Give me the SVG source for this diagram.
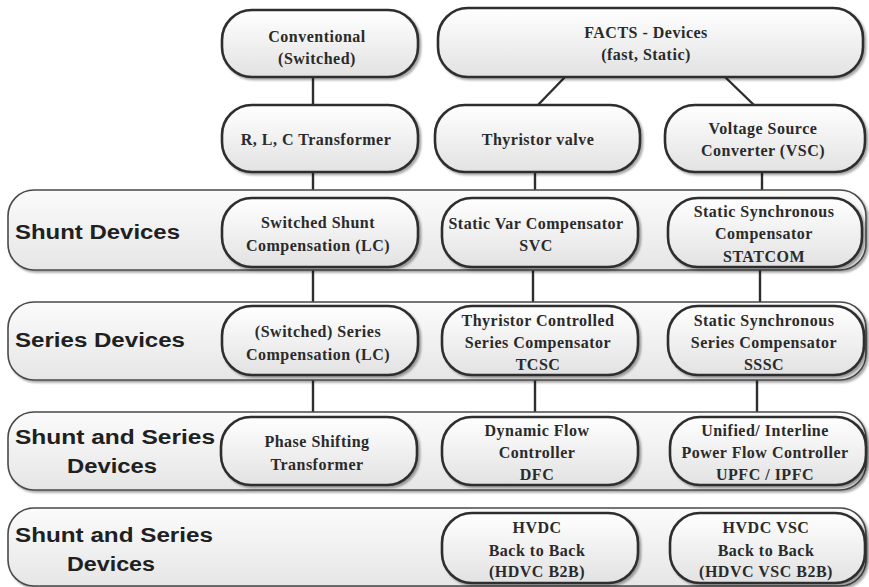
<svg xmlns="http://www.w3.org/2000/svg" width="869" height="587" viewBox="0 0 869 587">
  <defs>
    <linearGradient id="boxFill" x1="0" y1="0" x2="0" y2="1">
      <stop offset="0" stop-color="#ffffff"/>
      <stop offset="1" stop-color="#e2e2e2"/>
    </linearGradient>
    <linearGradient id="bandFill" x1="0" y1="0" x2="0" y2="1">
      <stop offset="0" stop-color="#fbfbfb"/>
      <stop offset="1" stop-color="#e6e6e6"/>
    </linearGradient>
    <filter id="shadow" x="-5%" y="-10%" width="110%" height="130%">
      <feDropShadow dx="2" dy="2" stdDeviation="1.2" flood-color="#000" flood-opacity="0.35"/>
    </filter>
  </defs>
  <style>
    .box { fill: url(#boxFill); stroke: #2e2e2e; stroke-width: 2.6; filter: url(#shadow); }
    .band { fill: url(#bandFill); stroke: #4a4a4a; stroke-width: 1.6; filter: url(#shadow); }
    .t { font-family: "Liberation Serif", "Times New Roman", serif; font-weight: bold; font-size: 16px; letter-spacing: 0.5px; fill: #2a2a2a; text-anchor: middle; }
    .b { font-family: "Liberation Sans", Arial, sans-serif; font-weight: bold; font-size: 20px; fill: #202020; }
    .c { stroke: #2e2e2e; stroke-width: 2.4; fill: none; }
  </style>
  <rect width="869" height="587" fill="#ffffff"/>

  <!-- connectors (drawn first so the bands cover their ends) -->
  <g id="connectors">
    <line class="c" x1="313" y1="77" x2="313" y2="106"/>
    <line class="c" x1="313" y1="171" x2="313" y2="199"/>
    <line class="c" x1="313" y1="266" x2="313" y2="307"/>
    <line class="c" x1="313" y1="374" x2="313" y2="418"/>
    <line class="c" x1="565" y1="77" x2="537" y2="106"/>
    <line class="c" x1="725" y1="77" x2="755" y2="106"/>
    <line class="c" x1="535" y1="171" x2="535" y2="199"/>
    <line class="c" x1="533" y1="266" x2="533" y2="307"/>
    <line class="c" x1="535" y1="374" x2="535" y2="418"/>
    <line class="c" x1="762" y1="171" x2="762" y2="199"/>
    <line class="c" x1="760" y1="266" x2="760" y2="307"/>
    <line class="c" x1="757" y1="374" x2="757" y2="418"/>
  </g>

  <!-- category bands -->
  <g id="band-shunt">
    <rect class="band" x="8" y="190" width="858" height="80" rx="26"/>
    <text class="b" x="15" y="239" textLength="165" lengthAdjust="spacingAndGlyphs">Shunt Devices</text>
  </g>
  <g id="band-series">
    <rect class="band" x="8" y="302" width="858" height="78" rx="26"/>
    <text class="b" x="15" y="347" textLength="170" lengthAdjust="spacingAndGlyphs">Series Devices</text>
  </g>
  <g id="band-shunt-series">
    <rect class="band" x="8" y="412" width="858" height="78" rx="26"/>
    <text class="b" x="15" y="444" textLength="200" lengthAdjust="spacingAndGlyphs">Shunt and Series</text>
    <text class="b" x="67" y="473" textLength="90" lengthAdjust="spacingAndGlyphs">Devices</text>
  </g>
  <g id="band-hvdc">
    <rect class="band" x="8" y="508" width="858" height="78" rx="26"/>
    <text class="b" x="15" y="542" textLength="198" lengthAdjust="spacingAndGlyphs">Shunt and Series</text>
    <text class="b" x="67" y="571" textLength="88" lengthAdjust="spacingAndGlyphs">Devices</text>
  </g>

  <!-- top level -->
  <g id="conventional">
    <rect class="box" x="222" y="10" width="196" height="67" rx="30"/>
    <text class="t" x="317" y="42">Conventional</text>
    <text class="t" x="317" y="64">(Switched)</text>
  </g>
  <g id="facts">
    <rect class="box" x="438" y="8" width="425" height="69" rx="30"/>
    <text class="t" x="646" y="38">FACTS - Devices</text>
    <text class="t" x="646" y="60">(fast, Static)</text>
  </g>

  <!-- technology level -->
  <g id="rlc">
    <rect class="box" x="222" y="105" width="196" height="67" rx="30"/>
    <text class="t" x="316" y="145">R, L, C Transformer</text>
  </g>
  <g id="thyristor">
    <rect class="box" x="435" y="105" width="205" height="67" rx="30"/>
    <text class="t" x="538" y="145">Thyristor valve</text>
  </g>
  <g id="vsc">
    <rect class="box" x="665" y="105" width="200" height="67" rx="30"/>
    <text class="t" x="763" y="134">Voltage Source</text>
    <text class="t" x="763" y="156">Converter (VSC)</text>
  </g>

  <!-- shunt devices -->
  <g id="switched-shunt">
    <rect class="box" x="222" y="198" width="196" height="69" rx="30"/>
    <text class="t" x="318" y="228">Switched Shunt</text>
    <text class="t" x="318" y="251">Compensation (LC)</text>
  </g>
  <g id="svc">
    <rect class="box" x="442" y="198" width="196" height="69" rx="30"/>
    <text class="t" x="536" y="229">Static Var Compensator</text>
    <text class="t" x="536" y="251">SVC</text>
  </g>
  <g id="statcom">
    <rect class="box" x="668" y="198" width="194" height="69" rx="30"/>
    <text class="t" x="764" y="217">Static Synchronous</text>
    <text class="t" x="764" y="239">Compensator</text>
    <text class="t" x="764" y="262">STATCOM</text>
  </g>

  <!-- series devices -->
  <g id="switched-series">
    <rect class="box" x="222" y="306" width="196" height="69" rx="30"/>
    <text class="t" x="318" y="337">(Switched) Series</text>
    <text class="t" x="318" y="360">Compensation (LC)</text>
  </g>
  <g id="tcsc">
    <rect class="box" x="442" y="306" width="196" height="69" rx="30"/>
    <text class="t" x="538" y="326">Thyristor Controlled</text>
    <text class="t" x="538" y="348">Series Compensator</text>
    <text class="t" x="538" y="370">TCSC</text>
  </g>
  <g id="sssc">
    <rect class="box" x="668" y="306" width="196" height="69" rx="30"/>
    <text class="t" x="764" y="326">Static Synchronous</text>
    <text class="t" x="764" y="348">Series Compensator</text>
    <text class="t" x="764" y="370">SSSC</text>
  </g>

  <!-- shunt and series devices -->
  <g id="pst">
    <rect class="box" x="221" y="417" width="196" height="68" rx="30"/>
    <text class="t" x="317" y="447">Phase Shifting</text>
    <text class="t" x="317" y="470">Transformer</text>
  </g>
  <g id="dfc">
    <rect class="box" x="442" y="417" width="196" height="68" rx="30"/>
    <text class="t" x="537" y="436">Dynamic Flow</text>
    <text class="t" x="537" y="458">Controller</text>
    <text class="t" x="537" y="480">DFC</text>
  </g>
  <g id="upfc">
    <rect class="box" x="670" y="417" width="196" height="68" rx="30"/>
    <text class="t" x="765" y="436">Unified/ Interline</text>
    <text class="t" x="765" y="458">Power Flow Controller</text>
    <text class="t" x="765" y="480">UPFC / IPFC</text>
  </g>

  <!-- back-to-back HVDC -->
  <g id="hvdc-b2b">
    <rect class="box" x="442" y="513" width="196" height="70" rx="30"/>
    <text class="t" x="537" y="533">HVDC</text>
    <text class="t" x="537" y="556">Back to Back</text>
    <text class="t" x="537" y="577">(HDVC  B2B)</text>
  </g>
  <g id="hvdc-vsc-b2b">
    <rect class="box" x="670" y="513" width="195" height="70" rx="30"/>
    <text class="t" x="766" y="533">HVDC VSC</text>
    <text class="t" x="766" y="556">Back to Back</text>
    <text class="t" x="766" y="577">(HDVC VSC B2B)</text>
  </g>
</svg>
